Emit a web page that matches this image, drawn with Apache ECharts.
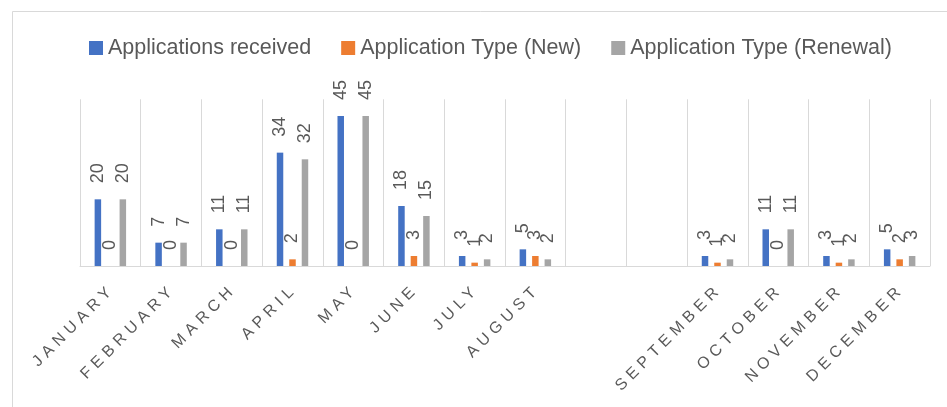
<!DOCTYPE html>
<html><head><meta charset="utf-8">
<script src="https://cdn.jsdelivr.net/npm/echarts@6/dist/echarts.min.js"></script>
<style>html,body{margin:0;padding:0;background:#fff}#c{width:947px;height:407px}</style>
</head><body><div id="c"></div>
<script>
const categories = ['JANUARY','FEBRUARY','MARCH','APRIL','MAY','JUNE','JULY','AUGUST','','','SEPTEMBER','OCTOBER','NOVEMBER','DECEMBER'];
const seriesNames = ['Applications received','Application Type (New)','Application Type (Renewal)'];
const received = [20,7,11,34,45,18,3,5,null,null,3,11,3,5];
const typeNew = [0,0,0,2,0,3,1,3,null,null,1,0,1,2];
const typeRenewal = [20,7,11,32,45,15,2,2,null,null,2,11,2,3];
const colors = ['#4472C4','#ED7D31','#A5A5A5'];

// letter-spaced month labels (as in the original)
const spaced = new Set(categories.filter(c => c));
const LS = 5, SHIFT = LS - 2;
const origFill = CanvasRenderingContext2D.prototype.fillText;
CanvasRenderingContext2D.prototype.fillText = function (t, x, y) {
  if (spaced.has(t)) {
    this.save();
    this.letterSpacing = LS + 'px';
    origFill.call(this, t, x + SHIFT, y);
    this.restore();
    this.letterSpacing = '0px';
    return;
  }
  this.letterSpacing = '0px';
  return origFill.apply(this, arguments);
};

const chart = echarts.init(document.getElementById('c'), null, {renderer: 'canvas'});
const dataSets = [received, typeNew, typeRenewal];
chart.setOption({
  animation: false,
  backgroundColor: '#fff',
  textStyle: {fontFamily: 'Liberation Sans'},
  graphic: [{
    type: 'rect', left: 10, top: 9, silent: true,
    shape: {x: 0, y: 0, width: 980, height: 430},
    style: {fill: 'none', stroke: '#d9d9d9', lineWidth: 1}
  }],
  legend: {
    left: 84, top: 32, icon: 'rect', itemWidth: 14, itemHeight: 14, itemGap: 30,
    textStyle: {fontSize: 21.5, color: '#595959', fontFamily: 'Liberation Sans'},
    data: seriesNames
  },
  grid: {left: 80, right: 17, top: 99.3, bottom: 141},
  xAxis: {
    type: 'category', data: categories, boundaryGap: true,
    axisLine: {lineStyle: {color: '#d9d9d9'}},
    axisTick: {show: false},
    splitLine: {show: true, lineStyle: {color: '#d9d9d9', width: 1}},
    axisLabel: {interval: 0, rotate: 45, margin: 23, fontSize: 16, color: '#595959', fontFamily: 'Liberation Sans'}
  },
  yAxis: {type: 'value', min: 0, max: 50, show: false, splitLine: {show: false}},
  series: seriesNames.map((n, i) => ({
    name: n, type: 'bar', data: dataSets[i], barWidth: 6.5, barGap: '92%',
    itemStyle: {color: colors[i]},
    label: {show: true, position: 'top', rotate: 90, align: 'left', verticalAlign: 'middle',
      distance: 16, color: '#595959', fontSize: 18, fontFamily: 'Liberation Sans'}
  }))
});
</script></body></html>
